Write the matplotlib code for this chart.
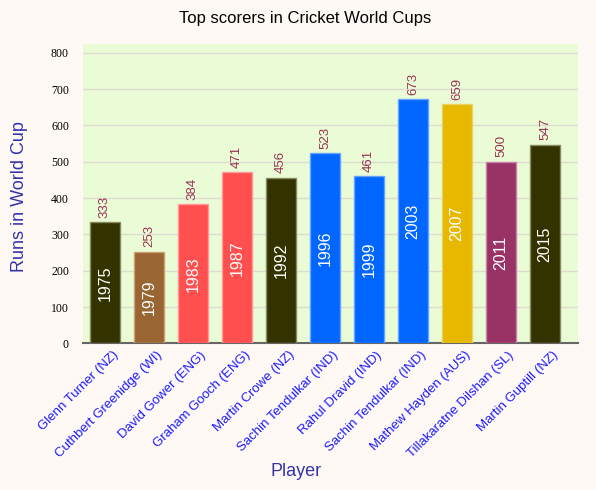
import matplotlib
matplotlib.use('Agg')
import matplotlib.pyplot as plt
import matplotlib.transforms as mtransforms

players = ['Glenn Turner (NZ)', 'Cuthbert Greenidge (WI)', 'David Gower (ENG)',
           'Graham Gooch (ENG)', 'Martin Crowe (NZ)', 'Sachin Tendulkar (IND)',
           'Rahul Dravid (IND)', 'Sachin Tendulkar (IND)', 'Mathew Hayden (AUS)',
           'Tillakaratne Dilshan (SL)', 'Martin Guptill (NZ)']
runs = [333, 253, 384, 471, 456, 523, 461, 673, 659, 500, 547]
years = ['1975', '1979', '1983', '1987', '1992', '1996', '1999', '2003', '2007', '2011', '2015']
colors = ['#333300', '#996633', '#FF4F4F', '#FF4F4F', '#333300', '#0066FF',
          '#0066FF', '#0066FF', '#E6B800', '#993366', '#333300']
edges = ['#8a8a60', '#c9a070', '#ff9a9a', '#ff9a9a', '#8a8a60', '#66a3ff',
         '#66a3ff', '#66a3ff', '#f0d060', '#c980a8', '#8a8a60']

fig = plt.figure(figsize=(5.96, 4.9), dpi=100, facecolor='#FFF9F5')
ax = fig.add_axes([0.139, 0.299, 0.831, 0.611])
ax.set_facecolor('#EAFCD6')

x = list(range(len(players)))
ax.bar(x, runs, width=0.68, color=colors, edgecolor=edges, linewidth=1, zorder=3)

for i in x:
    ax.text(i, runs[i] + 12, str(runs[i]), rotation=90, ha='center', va='bottom',
            color='#993355', fontsize=9.5, fontfamily='Liberation Sans', zorder=4)
    ax.text(i, runs[i] / 2, years[i], rotation=90, ha='center', va='center',
            color='white', fontsize=11.5, fontfamily='Liberation Sans', zorder=4)

ax.set_xlim(-0.5, 10.75)
ax.set_ylim(0, 824)
ax.set_yticks(range(0, 801, 100))
ax.yaxis.grid(True, color='#dcdcd0', linewidth=1, zorder=0)
ax.set_axisbelow(True)
for s in ['top', 'right', 'left']:
    ax.spines[s].set_visible(False)
ax.spines['bottom'].set_color('#666666')
ax.spines['bottom'].set_linewidth(1.5)
ax.tick_params(axis='both', length=0)
ax.tick_params(axis='y', pad=10, labelsize=8.5, labelfontfamily='Liberation Serif')

ax.set_xticks(x)
ax.set_xticklabels(players, rotation=45, ha='right', rotation_mode='anchor',
                   color='#1a1aff', fontsize=9.5, fontfamily='Liberation Sans')
ax.tick_params(axis='x', pad=4)
shift = mtransforms.ScaledTranslation(7 / 100, 0, fig.dpi_scale_trans)
for lab in ax.get_xticklabels():
    lab.set_transform(lab.get_transform() + shift)

ax.set_ylabel('Runs in World Cup', color='#3333AA', fontsize=13,
              fontfamily='Liberation Sans')
ax.yaxis.set_label_coords(-0.11, 0.49)
ax.set_xlabel('Player', color='#3333AA', fontsize=13, fontfamily='Liberation Sans')
ax.xaxis.set_label_coords(0.43, -0.40)
fig.text(0.512, 0.963, 'Top scorers in Cricket World Cups', ha='center', va='center',
         fontsize=12, fontfamily='Liberation Sans', color='black')

plt.savefig('out.png', dpi=100, facecolor=fig.get_facecolor())
plt.close()
